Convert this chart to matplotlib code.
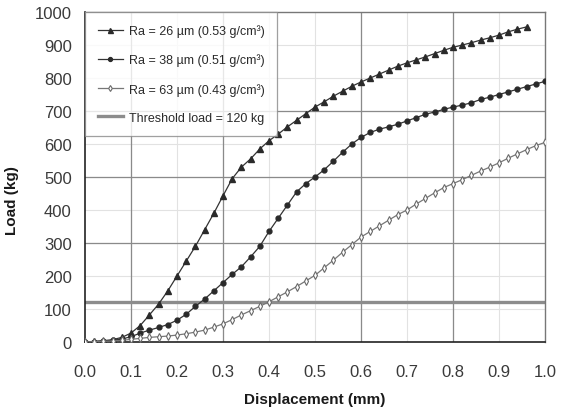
import matplotlib
matplotlib.use("Agg")
import matplotlib.pyplot as plt
import numpy as np

plt.rcParams['font.family'] = ['Liberation Sans', 'DejaVu Sans']

# displacement (mm) sampled every 0.02
x26 = [0.00, 0.02, 0.04, 0.06, 0.08, 0.10, 0.12, 0.14, 0.16, 0.18, 0.20, 0.22, 0.24,
       0.26, 0.28, 0.30, 0.32, 0.34, 0.36, 0.38, 0.40, 0.42, 0.44, 0.46, 0.48, 0.50,
       0.52, 0.54, 0.56, 0.58, 0.60, 0.62, 0.64, 0.66, 0.68, 0.70, 0.72, 0.74, 0.76,
       0.78, 0.80, 0.82, 0.84, 0.86, 0.88, 0.90, 0.92, 0.94, 0.96]
load26 = [0, 2, 4, 7, 14, 27, 50, 82, 115, 155, 200, 245, 290,
          340, 390, 443, 495, 530, 555, 585, 610, 630, 652, 672, 692, 712,
          728, 745, 760, 775, 788, 800, 812, 824, 836, 846, 855, 864, 874,
          884, 893, 900, 907, 915, 922, 930, 940, 948, 955]

x38 = x26 + [0.98, 1.00]
load38 = [0, 1, 3, 5, 9, 16, 27, 36, 44, 53, 66, 84, 108,
          130, 155, 180, 205, 228, 258, 290, 335, 375, 415, 455, 480, 500,
          522, 548, 575, 600, 620, 635, 645, 652, 660, 670, 680, 690, 697,
          705, 712, 718, 725, 735, 742, 750, 758, 766, 774, 782, 790]

x63 = x38
load63 = [0, 1, 2, 3, 5, 8, 11, 14, 16, 18, 21, 25, 30,
          36, 45, 55, 68, 82, 95, 108, 122, 137, 152, 168, 185, 202,
          225, 248, 272, 295, 318, 335, 352, 369, 386, 400, 418, 435, 452,
          468, 480, 492, 505, 518, 530, 543, 557, 570, 583, 595, 605]

threshold = 120
labels = ['Ra = 26 µm (0.53 g/cm³)', 'Ra = 38 µm (0.51 g/cm³)',
          'Ra = 63 µm (0.43 g/cm³)', 'Threshold load = 120 kg']

fig = plt.figure(figsize=(5.69, 4.14), dpi=100)
ax = fig.add_axes([0.1494, 0.1715, 0.8084, 0.797])

# faint grid everywhere, darker lines on a few positions
for xv in np.arange(0.1, 1.0, 0.1):
    ax.axvline(xv, color='#e2e2e2', lw=0.8, zorder=0)
for yv in range(100, 1000, 100):
    ax.axhline(yv, color='#e2e2e2', lw=0.8, zorder=0)
for xv in [0.1, 0.3, 0.6, 0.8]:
    ax.axvline(xv, color='#8a8a8a', lw=0.9, zorder=0.5)
for yv in [300, 500, 700]:
    ax.axhline(yv, color='#8a8a8a', lw=0.9, zorder=0.5)

ax.plot(x26, load26, color='#333333', lw=0.9, marker='^', ms=4.5,
        mfc='#2a2a2a', mec='#2a2a2a', label=labels[0], zorder=3)
ax.plot(x38, load38, color='#333333', lw=0.9, marker='o', ms=3.5,
        mfc='#2a2a2a', mec='#2a2a2a', label=labels[1], zorder=3)
ax.plot(x63, load63, color='#777777', lw=0.9, marker='d', ms=3.8,
        mfc='white', mec='#6a6a6a', mew=0.8, label=labels[2], zorder=3)
ax.axhline(threshold, color='#8c8c8c', lw=2.4, label=labels[3], zorder=2)

ax.set_xlim(0, 1.0)
ax.set_ylim(0, 1000)
ax.set_xticks(np.arange(0, 1.01, 0.1))
ax.set_xticklabels(['%.1f' % v for v in np.arange(0, 1.01, 0.1)])
ax.set_yticks(range(0, 1001, 100))
ax.tick_params(axis='x', length=0, pad=16, labelsize=12, labelcolor='#3a3a3a')
ax.tick_params(axis='y', length=0, pad=9.5, labelsize=12, labelcolor='#3a3a3a')

for s in ['top', 'right']:
    ax.spines[s].set_color('#777777')
    ax.spines[s].set_linewidth(1.0)
for s in ['left', 'bottom']:
    ax.spines[s].set_color('#222222')
    ax.spines[s].set_linewidth(1.2)

ax.set_xlabel('Displacement (mm)', fontsize=11, fontweight='bold', color='#1a1a1a')
ax.set_ylabel('Load (kg)', fontsize=11, fontweight='bold', color='#1a1a1a')
ax.xaxis.set_label_coords(0.499, -0.152)
ax.yaxis.set_label_coords(-0.143, 0.433)

leg = ax.legend(loc='upper left', fontsize=9, frameon=True, fancybox=False,
                borderaxespad=0.0, borderpad=1.0, labelspacing=1.3,
                handlelength=2.0, handletextpad=0.5, markerscale=0.8)
leg.get_frame().set_edgecolor('#888888')
leg.get_frame().set_linewidth(0.9)
leg.set_zorder(5)
for t in leg.get_texts():
    t.set_color('#2a2a2a')

fig.savefig('out.png', dpi=100)
